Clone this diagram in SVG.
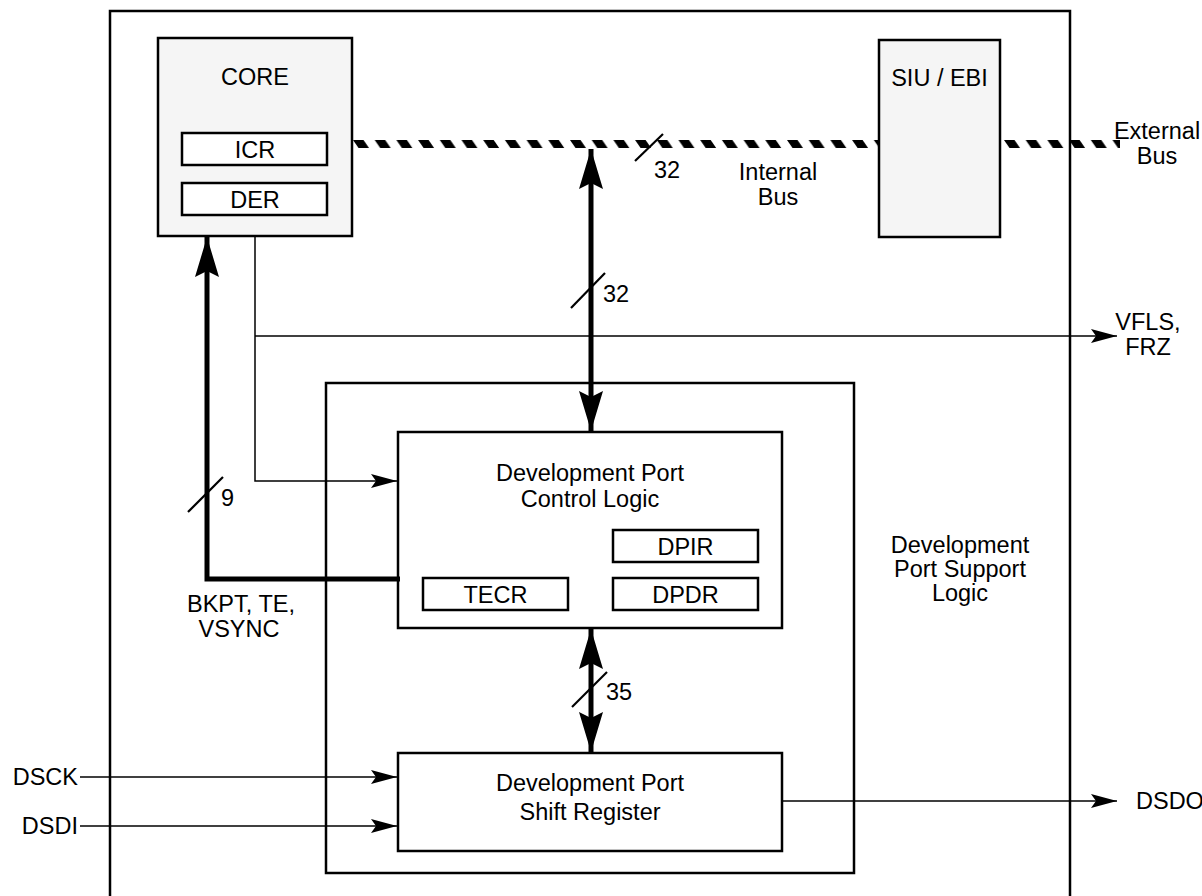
<svg xmlns="http://www.w3.org/2000/svg" width="1202" height="896" viewBox="0 0 1202 896">
<style>
  .box { fill: #ffffff; stroke: #000; stroke-width: 2.5; }
  .gbox { fill: #f5f5f5; stroke: #000; stroke-width: 2.5; }
  .thin { fill: none; stroke: #000; stroke-width: 1.5; }
  .thick { fill: none; stroke: #000; stroke-width: 5; }
  .slash { fill: none; stroke: #000; stroke-width: 2.2; }
  text { font-family: "Liberation Sans", Arial, Helvetica, sans-serif; font-size: 23.5px; fill: #000; }
  .c { text-anchor: middle; }
  .e { text-anchor: end; }
</style>
<defs>
  <marker id="ah" markerUnits="userSpaceOnUse" markerWidth="27" markerHeight="14" refX="26" refY="7" orient="auto">
    <path d="M0,0 L26,7 L0,14 L5,7 z" fill="#000"/>
  </marker>
  <marker id="ahT" markerUnits="userSpaceOnUse" markerWidth="41" markerHeight="24" refX="40" refY="12" orient="auto-start-reverse">
    <path d="M0,0 L40,12 L0,24 L6,12 z" fill="#000"/>
  </marker>
  <pattern id="bus" patternUnits="userSpaceOnUse" x="353" y="140" width="21.7" height="8">
    <polygon points="0,0 10.5,0 16,8 5.5,8" fill="#000"/>
    <polygon points="-21.7,0 -11.2,0 -5.7,8 -16.2,8" fill="#000"/>
  </pattern>
</defs>

<g id="outer">
  <path d="M110,900 V11 H1070 V900" fill="none" stroke="#000" stroke-width="2.5"/>
</g>

<g id="core">
  <rect class="gbox" x="158" y="38" width="194" height="198"/>
  <text class="c" x="255" y="85">CORE</text>
</g>
<g id="icr">
  <rect class="box" x="182" y="133" width="145" height="32"/>
  <text class="c" x="255" y="157.5">ICR</text>
</g>
<g id="der">
  <rect class="box" x="182" y="183" width="145" height="32"/>
  <text class="c" x="255" y="207.5">DER</text>
</g>

<g id="siu">
  <rect class="gbox" x="879" y="40" width="121" height="197"/>
  <text class="c" x="939.5" y="86">SIU / EBI</text>
</g>

<g id="support">
  <rect class="box" x="326" y="383" width="528" height="490"/>
  <text class="c" x="960" y="553">Development</text>
  <text class="c" x="960" y="577">Port Support</text>
  <text class="c" x="960" y="601">Logic</text>
</g>

<g id="control">
  <rect class="box" x="398" y="432" width="384" height="196"/>
  <text class="c" x="590" y="481">Development Port</text>
  <text class="c" x="590" y="507">Control Logic</text>
</g>
<g id="dpir">
  <rect class="box" x="613" y="530" width="145" height="32"/>
  <text class="c" x="685.5" y="554.5">DPIR</text>
</g>
<g id="tecr">
  <rect class="box" x="423" y="578" width="145" height="32"/>
  <text class="c" x="495.5" y="602.5">TECR</text>
</g>
<g id="dpdr">
  <rect class="box" x="613" y="578" width="145" height="32"/>
  <text class="c" x="685.5" y="602.5">DPDR</text>
</g>

<g id="shift">
  <rect class="box" x="398" y="753" width="384" height="98"/>
  <text class="c" x="590" y="791">Development Port</text>
  <text class="c" x="590" y="820">Shift Register</text>
</g>

<g id="connectors">
  <!-- internal bus -->
  <rect x="353" y="140" width="525" height="8" fill="url(#bus)"/>
  <rect x="1001" y="140" width="119" height="8" fill="url(#bus)"/>
  <line class="slash" x1="635" y1="161" x2="663" y2="134"/>
  <text x="654" y="178">32</text>
  <text class="c" x="778" y="180">Internal</text>
  <text class="c" x="778" y="205">Bus</text>
  <text class="c" x="1157" y="139">External</text>
  <text class="c" x="1157" y="164">Bus</text>

  <!-- bus to control logic -->
  <line class="thick" x1="591" y1="149" x2="591" y2="431" marker-start="url(#ahT)" marker-end="url(#ahT)"/>
  <line class="slash" x1="571" y1="308" x2="605" y2="273"/>
  <text x="603" y="302">32</text>

  <!-- core to control / VFLS -->
  <polyline class="thin" points="255,236 255,481 397,481" marker-end="url(#ah)"/>
  <line class="thin" x1="255" y1="336" x2="1117" y2="336" marker-end="url(#ah)"/>
  <text class="c" x="1148" y="330">VFLS,</text>
  <text class="c" x="1148" y="355">FRZ</text>

  <!-- control to core -->
  <polyline class="thick" points="400,579 207,579 207,237" marker-end="url(#ahT)"/>
  <line class="slash" x1="188" y1="512" x2="223" y2="477"/>
  <text x="221" y="506">9</text>
  <text class="c" x="241" y="612">BKPT, TE,</text>
  <text class="c" x="239" y="637">VSYNC</text>

  <!-- control to shift -->
  <line class="thick" x1="591" y1="629" x2="591" y2="752" marker-start="url(#ahT)" marker-end="url(#ahT)"/>
  <line class="slash" x1="572" y1="707" x2="607" y2="672"/>
  <text x="606" y="700">35</text>

  <!-- DSCK / DSDI / DSDO -->
  <line class="thin" x1="80" y1="777" x2="397" y2="777" marker-end="url(#ah)"/>
  <text class="e" x="78" y="785">DSCK</text>
  <line class="thin" x1="80" y1="826" x2="397" y2="826" marker-end="url(#ah)"/>
  <text class="e" x="78" y="834">DSDI</text>
  <line class="thin" x1="783" y1="801" x2="1117" y2="801" marker-end="url(#ah)"/>
  <text x="1136" y="809">DSDO</text>
</g>
</svg>
